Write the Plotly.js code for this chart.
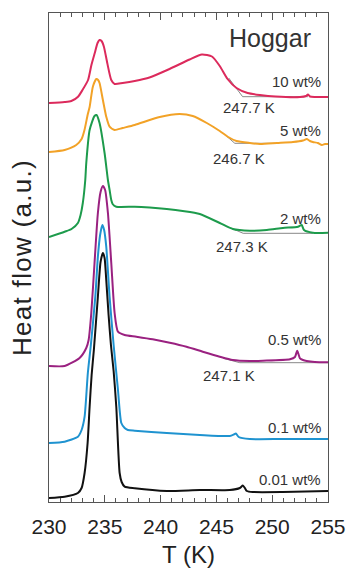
<!DOCTYPE html>
<html>
<head>
<meta charset="utf-8">
<script src="https://cdn.plot.ly/plotly-3.0.1.min.js"></script>
<style>html,body{margin:0;padding:0;background:#fff;}#chart{width:347px;height:568px;}
.ytitle{letter-spacing:1.3px;}</style>
</head>
<body>
<div id="chart"></div>
<script>
// Temperature (K) and heat flow (a.u.) per sample
const t10 = [230.0,231.4,232.0,232.6,233.0,233.5,233.8,234.1,234.35,234.53,234.71,234.92,235.22,235.58,235.88,236.6,237.68,239.0,240.8,242.6,243.7,244.6,245.3,246.0,246.8,247.8,248.9,250.3,252.49,253.03,253.2,253.38,253.82,255.0];
const hf10 = [399,400,401,405.3,412,422,437,449,459,462,461,455.3,439,422,418,419,421,424.5,433,442.5,447.5,445.5,436,423,414,409,407,405.5,405,406,407.5,405.5,405,405];

const t5 = [230.0,231.4,232.44,232.92,233.18,233.46,233.64,233.93,234.24,234.4,234.53,234.83,235.13,235.43,235.88,236.6,237.68,239.92,241.71,242.88,244.14,245.3,246.05,246.8,248.0,248.9,250.42,251.86,252.76,253.11,253.38,253.64,254.09,254.45,254.73,255.0];
const hf5 = [350,352,357,363,372,387,395,415.3,423,422,419,402,385.3,375.3,372,374,377,385,388,386,379,371,365,361,359,358,359,360,361.5,363,361,360,359,357,358,358];

const t2 = [230.0,231.4,232.02,232.59,232.83,233.03,233.25,233.34,233.64,234.08,234.26,234.53,234.98,235.28,235.43,235.58,235.7,236.03,237.68,239.02,240.55,241.98,243.51,245.3,246.47,248.0,249.52,250.96,252.31,252.64,252.85,253.64,255.0];
const hf2 = [265,270.3,273,279,287,299,322,339,372,386,387,379,349,322,312,302,298,295.3,295.3,294.5,293,291,288,279,273,271.3,272,274,275.3,277,272,269.3,269.3];

const t05 = [230.0,231.4,232.74,233.34,233.55,233.79,234.08,234.38,234.62,234.83,235.03,235.28,235.58,235.88,236.18,236.78,237.83,239.29,240.82,242.32,243.78,245.3,246.47,248.0,249.17,251.59,252.04,252.24,252.49,252.76,253.09,253.82,255.0];
const hf05 = [136,136,144,154,162,189,239,289,310,316,312,289,239,189,170.3,167,165.3,162.7,159.3,155.3,150.3,145.3,142,141,141.3,142.7,145,151.3,143.7,142,141,140,139.7];

const t01 = [230.0,231.4,232.59,232.92,233.19,233.48,233.75,234.15,234.38,234.58,234.78,234.94,235.13,235.43,235.79,236.18,236.48,236.78,237.07,237.68,240.55,243.51,246.2,246.56,246.74,247.0,248.0,250.96,255.0];
const hf01 = [59,60.3,65.3,72,85.3,129,157,205.3,245.3,267,277,272,255.3,205.3,157,112,79,74,72,71.3,69,67,66,67.5,68.5,65,63,63,63];

const t001 = [230.0,231.4,232.59,232.92,233.19,233.46,233.64,233.82,234.02,234.38,234.62,234.83,234.98,235.13,235.34,235.55,235.79,236.03,236.33,236.51,236.78,237.68,240.55,243.51,246.2,247.1,247.37,247.55,247.73,248.27,250.96,255.0];
const hf001 = [4,5.3,9,14,29,59,95.3,127,152,205.3,240,249,244,222,187,157,131,95.3,29,20,15.3,13.7,11,12,12,14,16.5,14,11,10,10,11];

// Baseline construction lines (onset temperatures)
const baseT10 = [246.1,247.35,253.2];
const baseY10 = [424,405.3,405.3];
const baseT5 = [245.9,246.65,250.24];
const baseY5 = [366,358.7,358.7];
const baseT2 = [246.36,247.4,253.64];
const baseY2 = [273.7,268.7,268.7];
const baseT05 = [245.6,247.1,255.0];
const baseY05 = [143.7,139.3,139.3];

const seriesNames = ['10 wt%','5 wt%','2 wt%','0.5 wt%','0.1 wt%','0.01 wt%'];
const onsetLabels = ['247.7 K','246.7 K','247.3 K','247.1 K'];

const colors = ['#dc2a5c','#f2a227','#1d9b4c','#9a2180','#1f93d0','#111111'];
const sets = [[t10,hf10],[t5,hf5],[t2,hf2],[t05,hf05],[t01,hf01],[t001,hf001]];
const bases = [[baseT10,baseY10],[baseT5,baseY5],[baseT2,baseY2],[baseT05,baseY05]];

const traces = [];
bases.forEach(b => traces.push({x:b[0], y:b[1], mode:'lines', line:{color:'#888888', width:1}, hoverinfo:'skip', showlegend:false}));
sets.forEach((s,i) => traces.push({x:s[0], y:s[1], name:seriesNames[i], mode:'lines',
  line:{color:colors[i], width:2, shape:'spline', smoothing:0.6}, showlegend:false}));

// label positions (T, y)
const nameX = 254.55;
const nameY = [421,371.5,284,162.5,75,23];
const onsetX = [247.9,247.0,247.3,246.1];
const onsetY = [394.5,343.5,256,127];

const annotations = [];
seriesNames.forEach((n,i) => annotations.push({x:nameX, y:nameY[i], xref:'x', yref:'y', text:n, showarrow:false,
  xanchor:'right', yanchor:'middle', font:{size:15, color:'#333'}}));
onsetLabels.forEach((n,i) => annotations.push({x:onsetX[i], y:onsetY[i], xref:'x', yref:'y', text:n, showarrow:false,
  xanchor:'center', yanchor:'middle', font:{size:15, color:'#333'}}));
annotations.push({x:253.65, y:464, xref:'x', yref:'y', text:'Hoggar', showarrow:false, xanchor:'right', yanchor:'middle',
  font:{size:25, color:'#333'}});

const layout = {
  width:347, height:568,
  margin:{l:49, r:19, t:13, b:66},
  paper_bgcolor:'#fff', plot_bgcolor:'#fff',
  font:{family:'"Liberation Sans", Arial, sans-serif', color:'#222'},
  showlegend:false,
  xaxis:{range:[230,255], tickmode:'linear', tick0:230, dtick:5, ticks:'inside', ticklen:7, tickwidth:1, tickcolor:'#555',
    showline:true, linecolor:'#555', linewidth:1, mirror:'ticks', showgrid:false, zeroline:false,
    tickfont:{size:21, color:'#222'}, ticklabelstandoff:6,
    minor:{dtick:1, ticks:'inside', ticklen:4, tickcolor:'#555', tickwidth:1, showgrid:false},
    title:{text:'T (K)', font:{size:24, color:'#222'}, standoff:10}},
  yaxis:{range:[0,489], showticklabels:false, ticks:'', showline:true, linecolor:'#555', linewidth:1, mirror:true,
    showgrid:false, zeroline:false,
    title:{text:'Heat flow (a.u.)', font:{size:26, color:'#222'}, standoff:8}},
  annotations:annotations
};

Plotly.newPlot('chart', traces, layout, {staticPlot:true, displayModeBar:false});
</script>
</body>
</html>
